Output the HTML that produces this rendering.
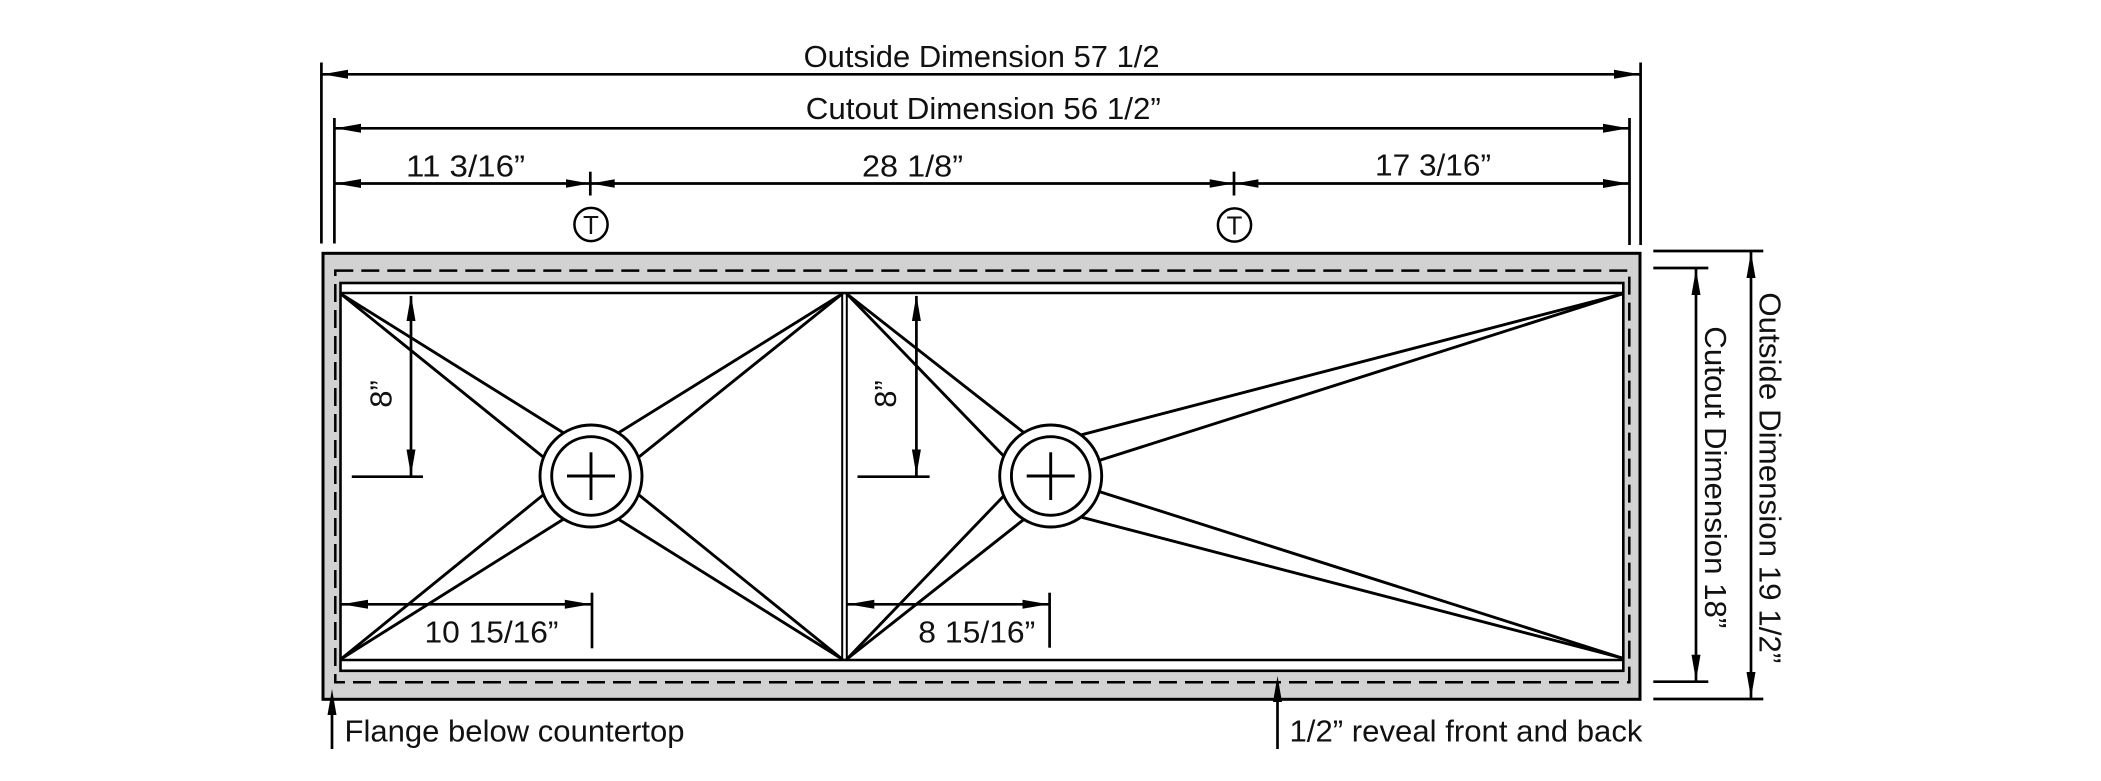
<!DOCTYPE html>
<html>
<head>
<meta charset="utf-8">
<style>
  html,body{margin:0;padding:0;background:#fff;}
  svg{display:block;}
  text{font-family:"Liberation Sans", Arial, sans-serif; fill:#111;}
</style>
</head>
<body>
<svg width="2101" height="781" viewBox="0 0 2101 781" xmlns="http://www.w3.org/2000/svg">
  <rect x="0" y="0" width="2101" height="781" fill="#fff"/>

  <!-- ===== Top dimensions ===== -->
  <g stroke="#000" stroke-width="2.7" fill="none">
    <line x1="321.4" y1="62.5" x2="321.4" y2="243.5"/>
    <line x1="1640.6" y1="62.5" x2="1640.6" y2="245"/>
    <line x1="334.4" y1="118" x2="334.4" y2="243.5"/>
    <line x1="1629.5" y1="118" x2="1629.5" y2="245"/>
    <line x1="321.4" y1="74.3" x2="1640.6" y2="74.3"/>
    <line x1="334.4" y1="128.3" x2="1629.5" y2="128.3"/>
    <line x1="334.4" y1="183.5" x2="1629.5" y2="183.5"/>
    <line x1="590.3" y1="171.7" x2="590.3" y2="195.5"/>
    <line x1="1234" y1="171.7" x2="1234" y2="195.5"/>
  </g>
  <g fill="#000">
    <polygon points="322.5,74.3 348,69.8 348,78.8"/>
    <polygon points="1639.5,74.3 1614,69.8 1614,78.8"/>
    <polygon points="335.5,128.3 361,123.8 361,132.8"/>
    <polygon points="1628.5,128.3 1603,123.8 1603,132.8"/>
    <polygon points="335.5,183.5 361,179 361,188"/>
    <polygon points="589.5,183.5 566,179.3 566,187.7"/>
    <polygon points="591.2,183.5 614.7,179.3 614.7,187.7"/>
    <polygon points="1233.2,183.5 1209.7,179.3 1209.7,187.7"/>
    <polygon points="1234.9,183.5 1258.4,179.3 1258.4,187.7"/>
    <polygon points="1628.5,183.5 1603,179 1603,188"/>
  </g>
  <text x="803.6" y="67" font-size="31" textLength="356" lengthAdjust="spacingAndGlyphs">Outside Dimension 57 1/2</text>
  <text x="805.8" y="119" font-size="31" textLength="355" lengthAdjust="spacingAndGlyphs">Cutout Dimension 56 1/2”</text>
  <text x="406" y="176.7" font-size="31" textLength="119" lengthAdjust="spacingAndGlyphs">11 3/16”</text>
  <text x="862" y="176.7" font-size="31" textLength="101" lengthAdjust="spacingAndGlyphs">28 1/8”</text>
  <text x="1375" y="175.5" font-size="31" textLength="116" lengthAdjust="spacingAndGlyphs">17 3/16”</text>

  <!-- T markers -->
  <circle cx="591" cy="224.5" r="16.6" fill="#fff" stroke="#000" stroke-width="2.5"/>
  <circle cx="1234.5" cy="225" r="16.6" fill="#fff" stroke="#000" stroke-width="2.5"/>
  <text x="591" y="234" font-size="26" text-anchor="middle">T</text>
  <text x="1234.5" y="234.5" font-size="26" text-anchor="middle">T</text>

  <!-- ===== Sink body ===== -->
  <rect x="323" y="253.3" width="1317" height="446" fill="#d2d2d2" stroke="#000" stroke-width="3"/>
  <rect x="335.3" y="270.6" width="1294" height="411.7" fill="none" stroke="#000" stroke-width="2.5" stroke-dasharray="18 8"/>
  <rect x="340.5" y="283" width="1282.8" height="387.8" fill="#fff" stroke="#000" stroke-width="2.6"/>

  <g stroke="#000" fill="none">
    <line x1="340.5" y1="293" x2="1623.3" y2="293" stroke-width="2.6"/>
    <line x1="340.5" y1="660" x2="1623.3" y2="660" stroke-width="2.6"/>
    <line x1="842.2" y1="293" x2="842.2" y2="660" stroke-width="2"/>
    <line x1="846.8" y1="293" x2="846.8" y2="660" stroke-width="2"/>
  </g>

  <!-- wedge lines -->
  <g stroke="#000" stroke-width="2.9" fill="none" stroke-linecap="round">
    <line x1="341" y1="294" x2="572.7" y2="438.6"/>
    <line x1="341" y1="294" x2="552.8" y2="464.8"/>
    <line x1="842" y1="294" x2="609.2" y2="438.6"/>
    <line x1="842" y1="294" x2="629.2" y2="464.8"/>
    <line x1="341" y1="659" x2="552.8" y2="487.1"/>
    <line x1="341" y1="659" x2="572.7" y2="513.4"/>
    <line x1="842" y1="659" x2="629.2" y2="487.1"/>
    <line x1="842" y1="659" x2="609.2" y2="513.4"/>
    <line x1="847" y1="294" x2="1031.5" y2="438.6"/>
    <line x1="847" y1="294" x2="1010.5" y2="463.1"/>
    <line x1="847" y1="659" x2="1010.5" y2="488.9"/>
    <line x1="847" y1="659" x2="1031.5" y2="513.4"/>
    <line x1="1622" y1="294" x2="1056.4" y2="441.3"/>
    <line x1="1622" y1="294" x2="1074.6" y2="468.3"/>
    <line x1="1622" y1="658" x2="1074.6" y2="483.7"/>
    <line x1="1622" y1="658" x2="1056.4" y2="510.7"/>
  </g>

  <!-- drains -->
  <g stroke="#000" stroke-width="2.9">
    <circle cx="591" cy="476" r="51" fill="#fff"/>
    <circle cx="591" cy="476" r="39.3" fill="none"/>
    <line x1="567" y1="476" x2="615" y2="476"/>
    <line x1="591" y1="452.3" x2="591" y2="500"/>
    <circle cx="1050.7" cy="476" r="51" fill="#fff"/>
    <circle cx="1050.7" cy="476" r="39.3" fill="none"/>
    <line x1="1026.7" y1="476" x2="1074.7" y2="476"/>
    <line x1="1050.7" y1="452.3" x2="1050.7" y2="500"/>
  </g>

  <!-- 8" dims -->
  <g stroke="#000" stroke-width="2.7">
    <line x1="411" y1="296" x2="411" y2="476"/>
    <line x1="351.8" y1="476.7" x2="423" y2="476.7"/>
    <line x1="916.4" y1="296" x2="916.4" y2="476"/>
    <line x1="857.5" y1="476.7" x2="929.6" y2="476.7"/>
  </g>
  <g fill="#000">
    <polygon points="411,295 406.5,321 415.5,321"/>
    <polygon points="411,475.5 406.5,449.5 415.5,449.5"/>
    <polygon points="916.4,295 911.9,321 920.9,321"/>
    <polygon points="916.4,475.5 911.9,449.5 920.9,449.5"/>
  </g>
  <text transform="translate(391.4,394) rotate(-90)" font-size="31" text-anchor="middle">8”</text>
  <text transform="translate(896,394) rotate(-90)" font-size="31" text-anchor="middle">8”</text>

  <!-- horizontal drain dims -->
  <g stroke="#000" stroke-width="2.7">
    <line x1="341" y1="604.3" x2="591" y2="604.3"/>
    <line x1="592" y1="592.7" x2="592" y2="648.3"/>
    <line x1="847.5" y1="604.3" x2="1049" y2="604.3"/>
    <line x1="1049.6" y1="592.7" x2="1049.6" y2="647.7"/>
  </g>
  <g fill="#000">
    <polygon points="342,604.3 368,599.8 368,608.8"/>
    <polygon points="590.8,604.3 564.8,599.8 564.8,608.8"/>
    <polygon points="848.3,604.3 874.3,599.8 874.3,608.8"/>
    <polygon points="1048.5,604.3 1022.5,599.8 1022.5,608.8"/>
  </g>
  <text x="424.5" y="642.7" font-size="31" textLength="134" lengthAdjust="spacingAndGlyphs">10 15/16”</text>
  <text x="918.3" y="642.7" font-size="31" textLength="117" lengthAdjust="spacingAndGlyphs">8 15/16”</text>

  <!-- bottom callouts -->
  <g stroke="#000" stroke-width="2.7">
    <line x1="332" y1="700" x2="332" y2="749"/>
    <line x1="1277.5" y1="690" x2="1277.5" y2="749"/>
  </g>
  <g fill="#000">
    <polygon points="332,689 327.5,715 336.5,715"/>
    <polygon points="1277.5,676 1273,702 1282,702"/>
  </g>
  <text x="344.5" y="741.7" font-size="31" textLength="340" lengthAdjust="spacingAndGlyphs">Flange below countertop</text>
  <text x="1289.5" y="741.7" font-size="31" textLength="353" lengthAdjust="spacingAndGlyphs">1/2” reveal front and back</text>

  <!-- ===== Right dimensions ===== -->
  <g stroke="#000" stroke-width="2.7">
    <line x1="1653.3" y1="251" x2="1763.3" y2="251"/>
    <line x1="1653.3" y1="268" x2="1708.3" y2="268"/>
    <line x1="1653.3" y1="681.7" x2="1708.3" y2="681.7"/>
    <line x1="1653.3" y1="699" x2="1763.3" y2="699"/>
    <line x1="1696" y1="268" x2="1696" y2="681.7"/>
    <line x1="1751" y1="251" x2="1751" y2="699"/>
  </g>
  <g fill="#000">
    <polygon points="1696,269 1691.5,295 1700.5,295"/>
    <polygon points="1696,680.7 1691.5,654.7 1700.5,654.7"/>
    <polygon points="1751,252 1746.5,278 1755.5,278"/>
    <polygon points="1751,698 1746.5,672 1755.5,672"/>
  </g>
  <text transform="translate(1705,326.3) rotate(90)" font-size="31" textLength="302" lengthAdjust="spacingAndGlyphs">Cutout Dimension 18”</text>
  <text transform="translate(1759.3,292.3) rotate(90)" font-size="31" textLength="371" lengthAdjust="spacingAndGlyphs">Outside Dimension 19 1/2”</text>
</svg>
</body>
</html>
